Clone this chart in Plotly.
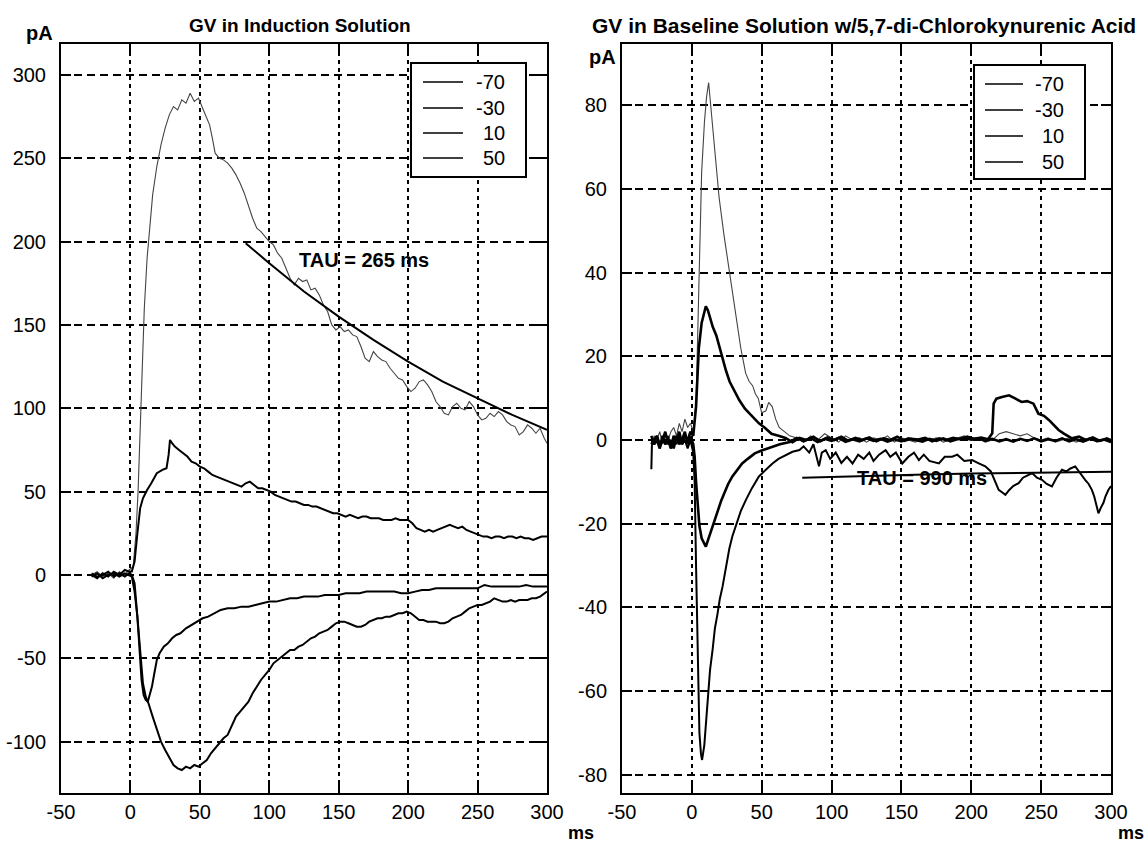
import plotly.graph_objects as go

W, H = 1148, 844

# ---------------- data ----------------
legend_labels = ["-70", "-30", "10", "50"]
x_ticks = [-50, 0, 50, 100, 150, 200, 250, 300]
x_ticktext = ["-50", "0", "50", "100", "150", "200", "250", "300"]
yL_ticks = [-100, -50, 0, 50, 100, 150, 200, 250, 300]
yL_ticktext = ["-100", "-50", "0", "50", "100", "150", "200", "250", "300"]
yR_ticks = [-80, -60, -40, -20, 0, 20, 40, 60, 80]
yR_ticktext = ["-80", "-60", "-40", "-20", "0", "20", "40", "60", "80"]

# Left panel: GV in Induction Solution  (time ms, current pA)
L50 = [(-28,0),(-24,2),(-20,-1),(-16,1),(-12,-2),(-8,2),(-4,0),(-1,3),(2,5),(4,25),(5.5,50),(7,90),(8.5,130),
       (10,160),(12,190),(14,210),(16,228),(19,245),(22,258),(25,268),(28,276),(31,281),(34,279),(37,285),(40,283),
       (43,289),(46,284),(49,286),(52,280),(55,274),(57,270),(59,262),(61,253),(64,250),(67,249),(70,247),(73,244),
       (76,240),(79,235),(82,229),(85,221),(88,214),(91,208),(94,206),(97,203),(100,200),(103,198),(106,193),(109,190),
       (112,184),(115,178),(118,174),(121,178),(124,176),(127,177),(130,171),(133,172),(136,168),(139,162),(142,158),
       (145,150),(148,147),(151,149),(154,146),(157,147),(160,144),(163,143),(166,137),(169,130),(172,128),(175,134),
       (178,131),(181,129),(184,128),(187,124),(190,121),(193,118),(196,117),(199,113),(202,110),(205,112),(208,116),
       (211,117),(214,114),(217,110),(220,104),(223,101),(226,97),(229,96),(232,101),(235,103),(238,100),(241,99),
       (244,104),(247,101),(250,96),(253,93),(256,94),(259,97),(262,95),(265,98),(268,96),(271,92),(274,90),(277,89),
       (280,84),(283,86),(286,90),(289,88),(292,85),(295,88),(298,82),(300,79)]
L10 = [(-28,0),(-24,-2),(-20,1),(-16,-1),(-12,2),(-8,0),(-4,3),(-1,2),(1,2),(3,8),(5,25),(7,40),(9,46),(12,51),
       (15,55),(19,61),(23,63),(26,64),(27.5,72),(28.5,81),(30,79),(32,77),(35,75),(38,73),(41,71),(44,68),(47,67),
       (50,65),(53,64),(56,62),(59,60),(62,59),(65,58),(68,57),(71,56),(74,55),(77,54),(80,53),(83,55),(86,56),(89,54),
       (92,52),(95,52),(98,51),(101,50),(104,48),(107,47),(110,46),(113,45),(116,44),(119,44),(122,43),(125,42),
       (128,42),(131,41),(134,41),(137,40),(140,39),(143,38),(146,37),(149,37),(152,36),(155,35),(158,36),(161,35),
       (164,34),(167,35),(170,35),(173,34),(176,34),(179,34),(182,33),(185,33),(188,33),(191,34),(194,33),(197,33),
       (200,33),(203,31),(206,28),(209,27),(212,26),(215,27),(218,26),(221,27),(224,28),(227,29),(230,30),(233,29),
       (236,28),(239,29),(242,27),(245,26),(248,25),(251,24),(254,23),(257,23),(260,22),(263,23),(266,23),(269,22),
       (272,23),(275,23),(278,22),(281,23),(284,22),(287,22),(290,21),(293,22),(296,23),(300,23)]
Lm30 = [(-28,1),(-24,-1),(-20,0),(-16,2),(-12,-1),(-8,1),(-4,-1),(-1,1),(1,0),(3,-5),(5,-25),(6.5,-45),(8,-63),
        (9.5,-72),(11,-75),(12.5,-76),(14,-71),(15.5,-67),(17,-60),(19,-51),(21,-47),(24,-43),(27,-41),(30,-38),
        (33,-36),(36,-35),(40,-32),(44,-30),(48,-28),(52,-26),(56,-25),(60,-23),(65,-21),(70,-20),(75,-20),(80,-19),
        (85,-19),(90,-18),(95,-17),(100,-16),(105,-16),(110,-15),(115,-14),(120,-14),(125,-13),(130,-13),(135,-13),
        (140,-12),(145,-12),(150,-12),(155,-11),(160,-11),(165,-11),(170,-10),(175,-10),(180,-10),(185,-10),(190,-10),
        (195,-11),(200,-11),(205,-10),(210,-9),(215,-9),(220,-8),(225,-8),(230,-8),(235,-8),(240,-8),(245,-8),
        (250,-8),(255,-6),(260,-7),(265,-7),(270,-7),(275,-7),(280,-7),(285,-6),(290,-7),(295,-7),(300,-7)]
Lm70 = [(-28,-1),(-24,1),(-20,-2),(-16,0),(-12,1),(-8,-1),(-4,1),(-1,0),(1,-1),(3,-10),(5,-25),(7,-45),(9,-65),
        (11,-73),(13,-77),(16,-85),(19,-93),(22,-100),(25,-105),(28,-110),(31,-114),(34,-116),(37,-117),(40,-115),
        (43,-116),(46,-114),(49,-115),(52,-113),(55,-111),(58,-107),(61,-104),(64,-101),(67,-98),(70,-96),(73,-90),
        (76,-85),(79,-82),(82,-79),(85,-76),(88,-71),(91,-67),(94,-63),(97,-60),(100,-57),(103,-53),(106,-51),
        (109,-49),(112,-47),(115,-45),(118,-45),(121,-43),(124,-42),(127,-40),(130,-38),(133,-37),(136,-35),(139,-34),
        (142,-33),(145,-31),(148,-29),(151,-28),(154,-28),(157,-29),(160,-30),(163,-31),(166,-31),(169,-30),(172,-28),
        (175,-27),(178,-26),(181,-26),(184,-25),(187,-25),(190,-24),(193,-23),(196,-23),(199,-22),(202,-23),(205,-25),
        (208,-27),(211,-27),(214,-28),(217,-28),(220,-28),(223,-29),(226,-29),(229,-28),(232,-26),(235,-25),(238,-24),
        (241,-22),(244,-20),(247,-19),(250,-18),(253,-18),(256,-17),(259,-16),(262,-14),(265,-15),(268,-16),(271,-16),
        (274,-15),(277,-16),(280,-15),(283,-15),(286,-15),(289,-14),(292,-14),(295,-13),(298,-11),(300,-10)]
L_fit = [(83,199),(100,187),(125,170),(150,155),(175,141),(200,128),(225,116),(250,106),(275,96),(300,87)]
L_tau_text = "TAU = 265 ms"

# Right panel: GV in Baseline Solution w/5,7-di-Chlorokynurenic Acid
R50 = [(-29,-2),(-27,1),(-25,0),(-23,2),(-21,-1),(-19,1),(-17,0),(-15,2),(-13,3),(-11,1),(-9,4),(-7,2),(-5,5),(-3,3),
       (-1,4),(1,2),(3,9),(5,38),(7,64),(9,76),(10.5,82),(12,85.5),(13.5,80),(16,69),(19.5,58),(23,49),(27,40),
       (31.5,30),(35,22),(38.5,16),(41,14),(43.5,13),(45.5,11),(47.5,10),(50,6.5),(53,7),(55,9),(57.5,8),(60,5),
       (62.5,3),(66,2),(70,1),(75,0.5),(80,-0.5),(85,1),(90,0),(95,1.5),(100,0.5),(105,-0.5),(110,1),(115,0),
       (120,0.5),(125,-0.5),(130,0.5),(135,0),(140,1),(145,-0.5),(150,0.5),(155,0),(160,-0.5),(165,0.5),(170,0),
       (175,0.5),(180,-0.5),(185,0),(190,0.5),(195,1),(200,0),(205,0.5),(210,-0.5),(215,0),(220,1.5),(225,2),
       (230,1.5),(235,1),(240,1.5),(245,0.5),(250,0),(255,0.5),(260,-0.5),(265,0),(270,0.5),(275,-0.5),(280,0),
       (285,0.5),(290,-0.5),(295,0),(300,-0.5)]
R10 = [(-29,1),(-27,-1),(-25,0),(-23,-2),(-21,1),(-19,-1),(-17,0),(-15,-2),(-13,1),(-11,0),(-9,2),(-7,-1),(-5,1),
       (-3,0),(-1,2),(1,1),(3,8),(5,22),(7,28),(8.5,30),(10,32),(11.5,31),(13,29),(15,27),(17.5,25),(20,22),(22,19),
       (24.5,16.5),(27,14),(30,12),(34,9.5),(38,7.5),(41,6.5),(45,5),(48,4),(52,3),(57,1.5),(62,1),(67,0.5),(72,-0.5),
       (77,0.5),(82,0),(87,0.8),(92,-0.3),(97,0.6),(102,0),(107,0.8),(112,-0.2),(117,0.5),(122,0),(127,0.6),
       (132,-0.3),(137,0.4),(142,0),(147,0.8),(152,-0.2),(157,0.3),(162,0.1),(167,0.5),(172,-0.3),(177,0.4),(182,0),
       (187,0.5),(192,0.2),(197,0.8),(202,0.3),(207,0.6),(212,0.2),(215,1.6),(216,8.7),(218,9.9),(222,10.3),
       (227,10.7),(231,10),(236,9.1),(240,9.3),(244.5,8.7),(248,6.3),(252,5.8),(255.5,4.8),(259,3.5),(262.5,2.4),
       (266,1.6),(272,0.4),(277,0.8),(282,0),(287,0.6),(292,-0.2),(297,0.4),(300,0)]
Rm30 = [(-29,-1),(-27,0),(-25,1),(-23,-1),(-21,0),(-19,2),(-17,-1),(-15,0),(-13,-2),(-11,1),(-9,-1),(-7,0),(-5,2),
        (-3,-1),(-1,1),(1,-1),(2,-4),(3,-10),(4.2,-15),(5.4,-20.5),(7,-23.5),(8.5,-24.5),(10,-25.5),(11.5,-24),
        (13.5,-22),(16,-19.5),(18.5,-16.5),(21,-14.5),(23.5,-12.5),(26,-10.5),(29,-8.7),(32.5,-7),(36,-5.6),(40,-4.5),
        (45,-3.2),(50,-2.5),(57,-1.6),(63,-1),(70,-0.5),(75,0.5),(80,-0.3),(85,0.5),(90,-0.5),(95,0.3),(100,-0.2),
        (105,0.5),(110,-0.4),(115,0.2),(120,-0.3),(125,0.4),(130,-0.2),(135,0.3),(140,-0.4),(145,0.2),(150,-0.3),
        (155,0.4),(160,0),(165,-0.4),(170,0.3),(175,-0.2),(180,0.4),(185,-0.3),(190,0.2),(195,0.5),(200,0.1),
        (205,0.4),(210,-0.2),(215,0.3),(220,-0.3),(225,0.2),(230,-0.4),(235,0.3),(240,-0.2),(245,0.4),(250,-0.3),
        (255,0.2),(260,-0.2),(265,0.4),(270,-0.3),(275,0.2),(280,-0.4),(285,0.3),(290,-0.2),(295,0.1),(300,-0.5)]
Rm70 = [(-29,-7),(-28.5,0),(-27,-1),(-25,1),(-23,-2),(-21,0),(-19,-1),(-17,1),(-15,-2),(-13,0),(-11,-1),(-9,1),
        (-7,-1),(-5,0),(-3,-2),(-1,0),(1,-3),(2,-10),(3,-30),(4.2,-54),(5.4,-70),(6.5,-75),(7.3,-76.5),(8.9,-73),
        (10,-68),(11.3,-62),(13,-55),(14.9,-50),(16.5,-45),(18.4,-41.5),(20,-38),(22,-35),(24.5,-30),(26.8,-26),
        (29,-23),(31.6,-20.5),(35,-17),(38.7,-14.3),(43,-11.5),(48,-8.7),(53,-7),(57.7,-5.6),(62,-4.5),(67,-3.6),
        (72,-2.8),(77,-2.4),(80,-1.5),(84,-3),(87,-1),(91,-6.3),(93,-3),(95.8,-2.4),(99,-4.5),(103,-3),(107,-5.5),
        (111,-4),(115,-5.6),(119,-3.5),(123,-4.5),(127,-3),(130,-5),(134,-3.5),(138.7,-2.4),(142,-4),(146,-3),
        (150.6,-5.6),(155,-4),(159,-3),(162.5,-4.8),(166,-3.5),(170,-5),(176.8,-5.6),(181,-4),(186.3,-4),(190,-3.5),
        (195,-5),(200.6,-4.8),(205,-5.5),(210,-6.3),(214,-7.5),(217,-10),(219.6,-11.9),(222,-12.5),(224.4,-13.1),
        (227,-12),(230,-11),(233.9,-10.3),(237,-9),(240,-8.5),(243.5,-7.9),(247,-9),(250.6,-9.5),(254,-10.5),
        (257.7,-11.1),(261,-9),(264.9,-7.1),(268,-7.5),(271,-6.8),(274.4,-6.3),(278,-8),(281.5,-9.5),(284,-10.5),
        (286.3,-11.9),(288,-13.5),(290,-16),(291,-17.5),(293,-16),(294.6,-15),(296,-13.5),(298,-12),(300,-11)]
R_fit = [(79,-9.0),(120,-8.6),(160,-8.3),(200,-8.0),(250,-7.8),(300,-7.6)]
R_tau_text = "TAU = 990 ms"

# ---------------- layout geometry (pixels) ----------------
def px(x):
    return x / W

def py(y):
    return 1 - y / H

L_dom = [px(61), px(547)]
R_dom = [px(622), px(1111)]
Y_dom = [py(793), py(44)]
yL_range = [-130.8, 318.5]
yR_range = [-84.4, 94.7]
x_range = [-50, 300]

FONT = "Liberation Sans, Arial, sans-serif"

fig = go.Figure()

def add(series, xa, ya, width, color):
    fig.add_trace(go.Scatter(x=[p[0] for p in series], y=[p[1] for p in series], mode="lines",
                             line=dict(color=color, width=width), xaxis=xa, yaxis=ya,
                             showlegend=False, hoverinfo="skip"))

# left
add(L50, "x", "y", 1.1, "#444444")
add(Lm70, "x", "y", 2.0, "#000000")
add(Lm30, "x", "y", 2.0, "#000000")
add(L10, "x", "y", 2.0, "#000000")
add(L_fit, "x", "y", 2.0, "#000000")
# right
add(R50, "x2", "y2", 1.1, "#444444")
add(Rm70, "x2", "y2", 2.0, "#000000")
add(Rm30, "x2", "y2", 2.6, "#000000")
add(R10, "x2", "y2", 2.6, "#000000")
add(R_fit, "x2", "y2", 2.0, "#000000")

axis_common = dict(showline=True, linecolor="black", linewidth=2, mirror="ticks",
                   ticks="inside", ticklen=10, tickwidth=1.5, tickcolor="black",
                   showgrid=True, gridcolor="black", gridwidth=1.6, zeroline=False, automargin=False,
                   tickfont=dict(family=FONT, size=20, color="black"))

fig.update_layout(
    width=W, height=H, autosize=False,
    margin=dict(l=0, r=0, t=0, b=0),
    paper_bgcolor="white", plot_bgcolor="white",
    xaxis=dict(domain=L_dom, range=x_range, tickvals=x_ticks, ticktext=x_ticktext, anchor="y",
               griddash="4px,4px", ticklabelstandoff=0, **axis_common),
    yaxis=dict(domain=Y_dom, range=yL_range, tickvals=yL_ticks, ticktext=yL_ticktext, anchor="x",
               griddash="8px,5px", ticklabelstandoff=9, **axis_common),
    xaxis2=dict(domain=R_dom, range=x_range, tickvals=x_ticks, ticktext=x_ticktext, anchor="y2",
                griddash="4px,4px", ticklabelstandoff=0, **axis_common),
    yaxis2=dict(domain=Y_dom, range=yR_range, tickvals=yR_ticks, ticktext=yR_ticktext, anchor="x2",
                griddash="8px,5px", ticklabelstandoff=9, **axis_common),
    showlegend=False,
)

ann = []
shapes = []

def text(x, y, s, size=20, bold=True, xanchor="center"):
    ann.append(dict(x=px(x), y=py(y), xref="paper", yref="paper", text=(f"<b>{s}</b>" if bold else s),
                    showarrow=False, xanchor=xanchor, yanchor="middle",
                    font=dict(family=FONT, size=size, color="black")))

text(300, 25, "GV in Induction Solution", size=19)
text(864, 25, "GV in Baseline Solution w/5,7-di-Chlorokynurenic Acid", size=21)
text(39, 33, "pA")
text(602, 57, "pA")
text(566, 833, "ms", size=18, xanchor="left")
text(1116, 833, "ms", size=18, xanchor="left")

# TAU annotations, placed in data coordinates
ann.append(dict(x=120, y=189, xref="x", yref="y", text=f"<b>{L_tau_text}</b>", showarrow=False,
                xanchor="left", yanchor="middle", font=dict(family=FONT, size=20, color="black")))
ann.append(dict(x=117, y=-9, xref="x2", yref="y2", text=f"<b>{R_tau_text}</b>", showarrow=False,
                xanchor="left", yanchor="middle", font=dict(family=FONT, size=20, color="black")))

# legends (MATLAB-style boxes)
def legend(box, line_x, rows, text_right):
    x0, y0, x1, y1 = box
    shapes.append(dict(type="rect", xref="paper", yref="paper", x0=px(x0), x1=px(x1), y0=py(y1), y1=py(y0),
                       line=dict(color="black", width=2), fillcolor="white", layer="above"))
    for lab, ry in zip(legend_labels, rows):
        shapes.append(dict(type="line", xref="paper", yref="paper", x0=px(line_x[0]), x1=px(line_x[1]),
                           y0=py(ry), y1=py(ry), line=dict(color="black", width=1.5), layer="above"))
        ann.append(dict(x=px(text_right), y=py(ry), xref="paper", yref="paper", text=lab, showarrow=False,
                        xanchor="right", yanchor="middle", font=dict(family=FONT, size=20, color="black")))

legend((411, 63, 526, 177), (423, 463), [82, 108, 133, 158], 507)
legend((974, 65, 1085, 179), (985, 1023), [84, 110, 136, 162], 1066)

fig.update_layout(annotations=ann, shapes=shapes)
fig.write_html("out.html")
